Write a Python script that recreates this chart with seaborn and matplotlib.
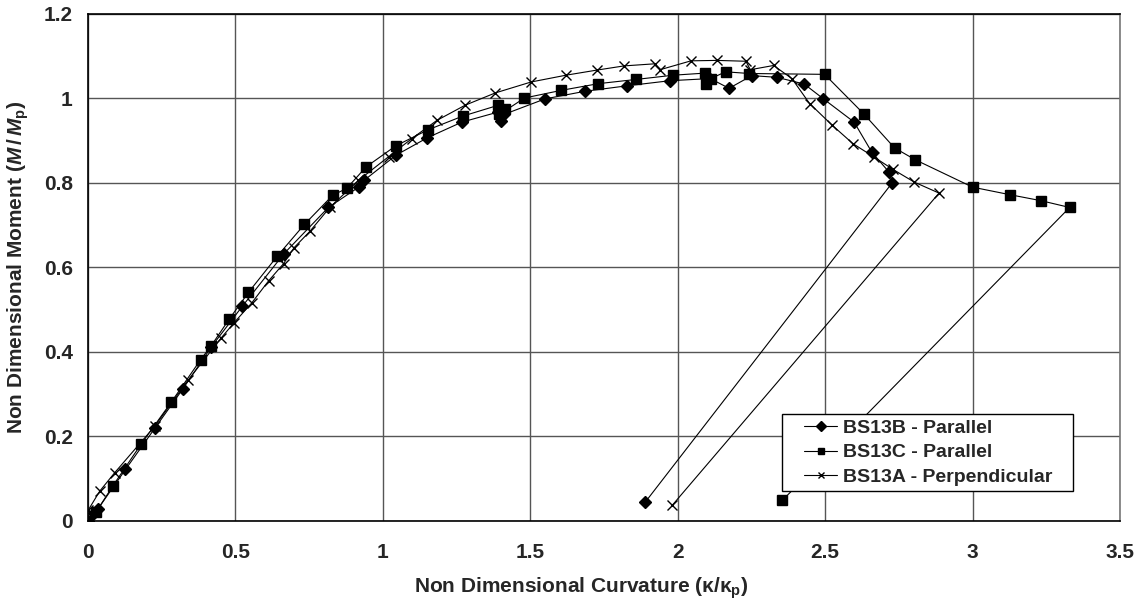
import numpy as np
import pandas as pd
import matplotlib
matplotlib.use("Agg")
import matplotlib.pyplot as plt
from matplotlib.patches import Rectangle
from matplotlib.ticker import FuncFormatter, MultipleLocator
import seaborn as sns

# values
bs13b_k = [0.0, 0.02, 0.034, 0.127, 0.226, 0.322, 0.418, 0.523, 0.665, 0.815, 0.920, 0.936,
           1.045, 1.151, 1.268, 1.392, 1.401, 1.41, 1.55, 1.686, 1.829, 1.974, 2.11, 2.174,
           2.251, 2.336, 2.429, 2.494, 2.598, 2.658, 2.716, 2.728, 1.889]
bs13b_m = [0.0, 0.02, 0.029, 0.122, 0.219, 0.313, 0.412, 0.508, 0.633, 0.742, 0.791, 0.806,
           0.866, 0.907, 0.944, 0.968, 0.947, 0.962, 0.999, 1.017, 1.030, 1.042, 1.047, 1.024,
           1.054, 1.050, 1.034, 0.999, 0.944, 0.873, 0.826, 0.801, 0.044]

bs13c_k = [0.0, 0.027, 0.085, 0.181, 0.283, 0.382, 0.416, 0.478, 0.544, 0.642, 0.734, 0.830,
           0.877, 0.943, 1.044, 1.154, 1.270, 1.392, 1.415, 1.395, 1.480, 1.604, 1.731, 1.859,
           1.985, 2.094, 2.096, 2.112, 2.162, 2.243, 2.498, 2.630, 2.735, 2.805, 3.000, 3.128,
           3.232, 3.329, 2.355]
bs13c_m = [0.0, 0.021, 0.084, 0.183, 0.282, 0.382, 0.413, 0.477, 0.541, 0.627, 0.702, 0.771,
           0.787, 0.838, 0.888, 0.926, 0.958, 0.984, 0.976, 0.962, 1.001, 1.019, 1.035, 1.045,
           1.055, 1.060, 1.033, 1.047, 1.063, 1.059, 1.057, 0.964, 0.883, 0.855, 0.790, 0.772,
           0.758, 0.742, 0.049]

bs13a_k = [0.0, 0.040, 0.090, 0.226, 0.339, 0.450, 0.495, 0.555, 0.612, 0.663, 0.699, 0.753,
           0.821, 0.917, 1.019, 1.098, 1.183, 1.279, 1.381, 1.503, 1.621, 1.725, 1.818, 1.923,
           1.940, 2.045, 2.133, 2.231, 2.246, 2.325, 2.387, 2.447, 2.523, 2.594, 2.664, 2.730,
           2.802, 2.886, 1.981]
bs13a_m = [0.025, 0.071, 0.114, 0.224, 0.333, 0.432, 0.469, 0.516, 0.568, 0.609, 0.647, 0.686,
           0.743, 0.806, 0.862, 0.905, 0.948, 0.984, 1.013, 1.039, 1.055, 1.067, 1.077, 1.082,
           1.068, 1.089, 1.090, 1.088, 1.068, 1.078, 1.047, 0.988, 0.937, 0.893, 0.862, 0.832,
           0.802, 0.776, 0.037]

series_names = ["BS13B - Parallel", "BS13C - Parallel", "BS13A - Perpendicular"]

sns.set_style("white")
plt.rcParams['font.family'] = ['Liberation Sans', 'DejaVu Sans']
plt.rcParams['font.weight'] = 'bold'
plt.rcParams['mathtext.fontset'] = 'custom'
plt.rcParams['mathtext.rm'] = 'Liberation Sans:bold'
plt.rcParams['mathtext.it'] = 'Liberation Sans:italic:bold'
plt.rcParams['mathtext.bf'] = 'Liberation Sans:bold'

fig = plt.figure(figsize=(11.42, 6.08), dpi=100)
ax = fig.add_axes([0.0771, 0.1431, 0.9037, 0.834])

styles = [("D", 6, 1.0), ("s", 6.8, 1.0), ("x", 6.5, 1.0)]
data = [(bs13b_k, bs13b_m), (bs13c_k, bs13c_m), (bs13a_k, bs13a_m)]
for (k, m), name, (mk, ms, mew) in zip(data, series_names, styles):
    sns.lineplot(x=k, y=m, ax=ax, sort=False, estimator=None, color="black",
                 linewidth=0.8, marker=mk, markersize=ms, markeredgewidth=mew,
                 markeredgecolor="black", markerfacecolor="black", label=name)

ax.set_xlim(0, 3.5)
ax.set_ylim(0, 1.2)
ax.xaxis.set_major_locator(MultipleLocator(0.5))
ax.yaxis.set_major_locator(MultipleLocator(0.2))
fmt = FuncFormatter(lambda v, p: "%g" % round(v, 2))
ax.xaxis.set_major_formatter(fmt)
ax.yaxis.set_major_formatter(fmt)
ax.grid(True, color="#555555", linewidth=1.0)
ax.set_axisbelow(True)
for s in ax.spines.values():
    s.set_color("black")
    s.set_linewidth(1.2)
ax.spines['right'].set_color("#777777")
ax.tick_params(axis="both", direction="out", length=5, width=1, color="black",
               labelsize=15)
ax.tick_params(axis="x", pad=11)
ax.tick_params(axis="y", pad=6)
for lab in ax.get_xticklabels() + ax.get_yticklabels():
    lab.set_fontweight("bold")

ax.set_xlabel("Non Dimensional Curvature ($\\mathrm{κ/κ_p}$)", fontsize=15,
              fontweight="bold")
ax.xaxis.set_label_coords(0.478, -0.108)
ax.set_ylabel("Non Dimensional Moment ($\\mathit{M\\,/\\,M}_\\mathrm{p}$)", fontsize=15,
              fontweight="bold", labelpad=9)

# legend box drawn separately: Excel pads it more at the sides than top/bottom
ax.add_patch(Rectangle((0.672, 0.059), 0.2825, 0.152, transform=ax.transAxes,
                       facecolor="white", edgecolor="black", linewidth=1.0, zorder=4))
leg = ax.legend(loc="center left", bbox_to_anchor=(0.692, 0.135), borderaxespad=0,
                frameon=False, fontsize=14, handlelength=1.7, handletextpad=0.3,
                labelspacing=0.35, borderpad=0.1)
leg.set_zorder(5)
for t in leg.get_texts():
    t.set_fontweight("bold")
for h in leg.legend_handles:
    h.set_markersize(5)

fig.savefig("out.png", dpi=100, facecolor="white")
